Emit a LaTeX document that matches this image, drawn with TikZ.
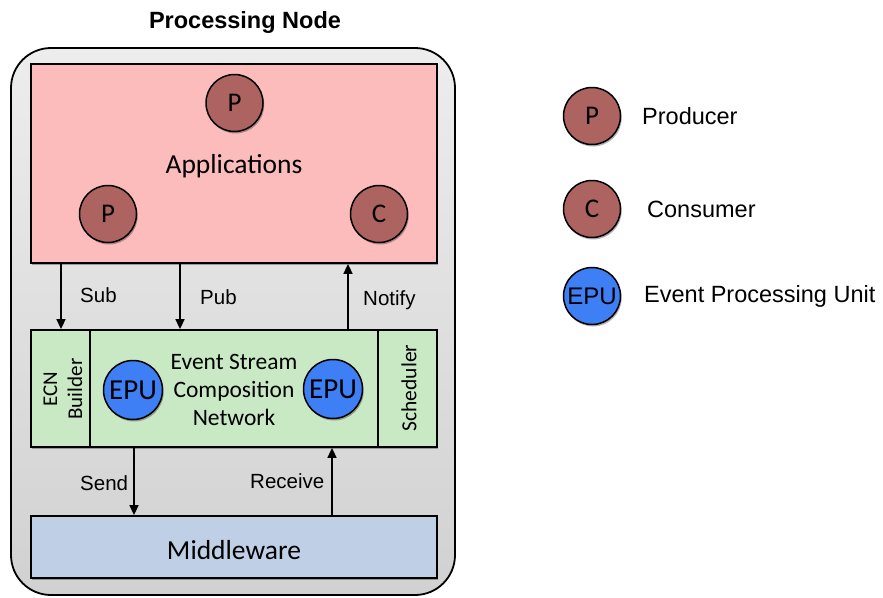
\documentclass[tikz,border=0pt]{standalone}
\usepackage{fontspec}
\setmainfont{Liberation Sans}
\newfontfamily\calfont{Carlito}
\usetikzlibrary{arrows.meta,shadows}
\definecolor{brownc}{HTML}{AD6461}
\definecolor{pinkbox}{HTML}{FDBCBC}
\definecolor{greenbox}{HTML}{C9E8C4}
\definecolor{bluebox}{HTML}{BFD0E6}
\definecolor{epublue}{HTML}{3F7FF6}
\definecolor{outertop}{HTML}{EDEDED}
\definecolor{outerbot}{HTML}{D1D1D1}
\tikzset{
  shad/.style={drop shadow={shadow xshift=1.2pt,shadow yshift=-2pt,opacity=.3,fill=black}},
  box/.style={draw=black,line width=1.8pt,rectangle,inner sep=0pt,shad},
  pcirc/.style={circle,draw=black,line width=1.5pt,fill=brownc,minimum size=57pt,inner sep=0pt,font=\calfont\fontsize{27}{27}\selectfont,shad},
  epu/.style={circle,draw=black,line width=1.5pt,fill=epublue,minimum size=59pt,inner sep=0pt,font=\calfont\fontsize{29}{29}\selectfont,shad},
  lepu/.style={circle,draw=black,line width=1.5pt,fill=epublue,minimum size=57pt,inner sep=0pt,font=\fontsize{24}{24}\selectfont,shad},
  arr/.style={line width=1.6pt,-{Triangle[length=10pt,width=9pt]}},
  lbl/.style={font=\fontsize{20.5}{20.5}\selectfont,anchor=west,inner sep=0pt},
  leg/.style={font=\fontsize{23.5}{23.5}\selectfont,anchor=west,inner sep=0pt},
}
\begin{document}
\begin{tikzpicture}[x=1pt,y=-1pt]
\useasboundingbox (0,0) rectangle (883,597);
\fill[white] (0,0) rectangle (883,597);
% title
\node[font=\bfseries\fontsize{23.5}{23.5}\selectfont] (title) at (245,22) {Processing Node};
% outer
\draw[line width=1.8pt,rounded corners=40pt,top color=outertop,bottom color=outerbot] (11,48) rectangle (455,595);
% applications
\node[box,fill=pinkbox,minimum width=406pt,minimum height=199pt] (app) at (234,163.5) {};
\node[font=\calfont\fontsize{27.5}{27.5}\selectfont] (apptxt) at (234,166) {Applications};
\node[pcirc] (p1) at (234.5,103) {P};
\node[pcirc] (p2) at (108,214) {P};
\node[pcirc] (c1) at (379,214) {C};
% ECN row
\node[box,fill=greenbox,minimum width=59pt,minimum height=117pt] (ecn) at (60.5,388.5) {};
\node[box,fill=greenbox,minimum width=288pt,minimum height=117pt] (core) at (234,388.5) {};
\node[box,fill=greenbox,minimum width=59pt,minimum height=117pt] (sched) at (407.5,388.5) {};
\node[rotate=90,align=center,font=\calfont\fontsize{21}{25}\selectfont] (ecntxt) at (63,389) {ECN\\Builder};
\node[rotate=90,font=\calfont\fontsize{21.5}{21.5}\selectfont] (schedtxt) at (409,388) {Scheduler};
\node[align=center,font=\calfont\fontsize{23.5}{28}\selectfont] (esctxt) at (234,390) {Event Stream\\Composition\\Network};
\node[epu] (e1) at (133,390) {EPU};
\node[epu] (e2) at (333,389) {EPU};
% middleware
\node[box,fill=bluebox,minimum width=406pt,minimum height=62pt] (mw) at (234,547) {};
\node[font=\calfont\fontsize{27.5}{27.5}\selectfont] (mwtxt) at (234,550) {Middleware};
% arrow coordinates
\coordinate (xsub) at (61,0);
\coordinate (xpub) at (180,0);
\coordinate (xnot) at (348,0);
\coordinate (xsend) at (134,0);
\coordinate (xrec) at (332,0);
\draw[arr] (app.south -| xsub) -- (ecn.north -| xsub);
\draw[arr] (app.south -| xpub) -- (core.north -| xpub);
\draw[arr] (core.north -| xnot) -- (app.south -| xnot);
\draw[arr] (core.south -| xsend) -- (mw.north -| xsend);
\draw[arr] (mw.north -| xrec) -- (core.south -| xrec);
\node[lbl] (lsub) at (80,295) {Sub};
\node[lbl] (lpub) at (200,297) {Pub};
\node[lbl] (lnot) at (363,300) {Notify};
\node[lbl] (lsend) at (80,483) {Send};
\node[lbl] (lrec) at (250,481) {Receive};
% legend
\node[pcirc] (lp) at (592,116) {P};
\node[leg] (lpt) at (642,116) {Producer};
\node[pcirc] (lc) at (592,209) {C};
\node[leg] (lct) at (647,209) {Consumer};
\node[lepu] (le) at (592,296) {EPU};
\node[leg] (let) at (644,296) {Event Processing Unit};
\end{tikzpicture}
\end{document}
